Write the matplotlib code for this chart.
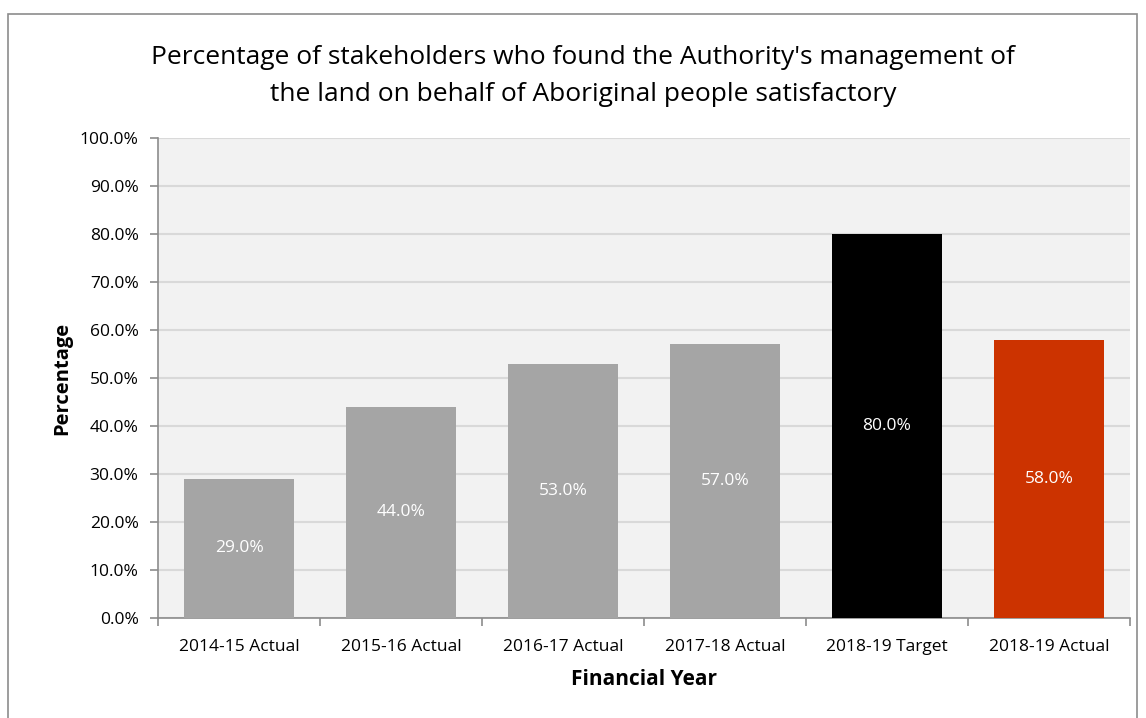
import matplotlib
matplotlib.use("Agg")
import matplotlib.pyplot as plt
from matplotlib.patches import Rectangle
from matplotlib.ticker import FuncFormatter, MultipleLocator
import numpy as np

plt.rcParams['font.family'] = ['Open Sans', 'DejaVu Sans']

categories = ["2014-15 Actual", "2015-16 Actual", "2016-17 Actual",
              "2017-18 Actual", "2018-19 Target", "2018-19 Actual"]
values = [29.0, 44.0, 53.0, 57.0, 80.0, 58.0]
colors = ["#a5a5a5", "#a5a5a5", "#a5a5a5", "#a5a5a5", "#000000", "#cc3300"]

title = ("Percentage of stakeholders who found the Authority's management of\n"
         "the land on behalf of Aboriginal people satisfactory")

fig = plt.figure(figsize=(11.46, 7.18), dpi=100)
ax = fig.add_axes([158 / 1146, 1 - 618 / 718, (1130 - 158) / 1146, 480 / 718])

# outer chart border
fig.patches.append(Rectangle((8 / 1146, -0.1), (1137 - 8) / 1146, 1.1 - 14 / 718,
                             transform=fig.transFigure, fill=False,
                             edgecolor="#8c8c8c", linewidth=1.2))

x = np.arange(len(categories))
ax.set_facecolor("#f2f2f2")
bars = ax.bar(x, values, width=0.68, color=colors, zorder=3)

for xi, v in zip(x, values):
    if v > 0:
        ax.text(xi, v / 2, f"{v:.1f}%", ha="center", va="center",
                color="white", fontsize=12.5, zorder=4)

ax.set_xlim(-0.5, len(categories) - 0.5)
ax.set_ylim(0, 100)
ax.yaxis.set_major_locator(MultipleLocator(10))
ax.yaxis.set_major_formatter(FuncFormatter(lambda v, p: f"{v:.1f}%"))
ax.grid(axis="y", color="#d9d9d9", linewidth=1.5, zorder=0)

ax.set_xticks(x)
ax.set_xticklabels(categories)
ax.set_xticks(np.arange(-0.5, len(categories)), minor=True)
ax.tick_params(axis="x", which="major", length=0, labelsize=12.5, pad=15)
ax.tick_params(axis="x", which="minor", length=6, color="#8c8c8c", width=1.2)
ax.tick_params(axis="y", length=6, color="#8c8c8c", width=1.2, labelsize=12.5, pad=8)

for s in ["top", "right"]:
    ax.spines[s].set_visible(False)
for s in ["left", "bottom"]:
    ax.spines[s].set_color("#8c8c8c")
    ax.spines[s].set_linewidth(1.2)

ax.set_ylabel("Percentage", fontsize=14.5, fontweight="bold", labelpad=5)
ax.set_xlabel("Financial Year", fontsize=15, fontweight="bold", labelpad=10)
fig.text(583 / 1146, 1 - 76 / 718, title, ha="center", va="center",
         fontsize=19, linespacing=1.65)

fig.savefig("out.png", dpi=100)
